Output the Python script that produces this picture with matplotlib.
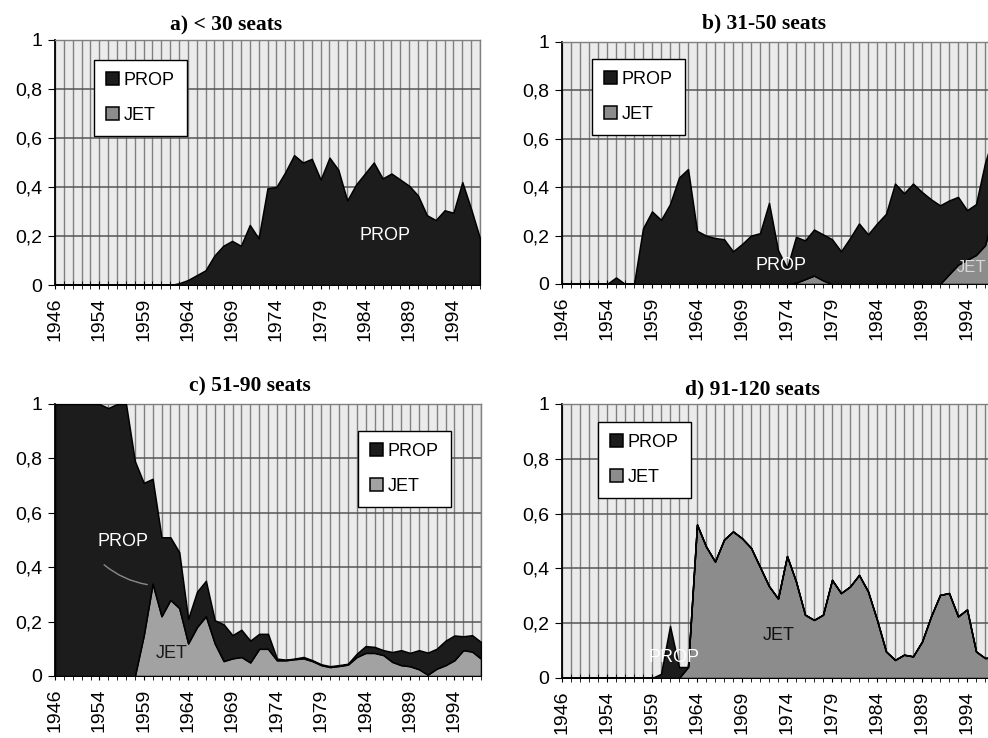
import matplotlib.pyplot as plt
import numpy as np

plt.rcParams['font.family'] = ['Liberation Sans', 'DejaVu Sans']

# categories (one per data point), labelled every 5th
years = [1946, 1950, 1951, 1952, 1953] + list(range(1954, 1998))

# a) < 30 seats
a_prop = [0, 0, 0, 0, 0, 0, 0, 0, 0, 0, 0, 0, 0,
          0.0, 0.007, 0.02, 0.04, 0.06, 0.12, 0.16, 0.18, 0.16, 0.245, 0.19,
          0.395, 0.40, 0.46, 0.53, 0.50, 0.515, 0.43, 0.52, 0.47, 0.345,
          0.41, 0.455, 0.50, 0.435, 0.455, 0.43, 0.405, 0.365, 0.285, 0.265,
          0.305, 0.295, 0.42, 0.31, 0.19]
a_jet = [0, 0, 0, 0, 0, 0, 0, 0, 0, 0, 0, 0, 0, 0, 0, 0, 0, 0, 0, 0, 0, 0, 0, 0,
         0, 0, 0, 0, 0, 0, 0, 0, 0, 0, 0, 0, 0, 0, 0, 0, 0, 0, 0, 0, 0, 0, 0, 0, 0]

# b) 31-50 seats
b_prop = [0, 0, 0, 0, 0, 0, 0.027, 0, 0, 0.23, 0.30, 0.265, 0.33, 0.44, 0.475,
          0.22, 0.20, 0.19, 0.185, 0.135, 0.165, 0.20, 0.21, 0.335, 0.14, 0.065,
          0.19, 0.16, 0.19, 0.19, 0.185, 0.135, 0.19, 0.25, 0.205, 0.25, 0.29,
          0.415, 0.375, 0.415, 0.38, 0.35, 0.325, 0.305, 0.28, 0.205, 0.21,
          0.34, 0.32]
b_jet = [0, 0, 0, 0, 0, 0, 0, 0, 0, 0, 0, 0, 0, 0, 0, 0, 0, 0, 0, 0, 0, 0, 0, 0,
         0, 0, 0.005, 0.02, 0.035, 0.015, 0, 0, 0, 0, 0, 0, 0, 0, 0, 0, 0, 0, 0,
         0.04, 0.08, 0.10, 0.12, 0.16, 0.30]

# c) 51-90 seats
c_prop = [1.0, 1.0, 1.0, 1.0, 1.0, 1.0, 0.985, 1.0, 1.0, 0.79, 0.56, 0.385,
          0.29, 0.23, 0.205, 0.09, 0.13, 0.13, 0.085, 0.135, 0.085, 0.10, 0.08,
          0.055, 0.055, 0.006, 0.002, 0.002, 0.005, 0.003, 0.003, 0.003, 0.003,
          0.003, 0.012, 0.025, 0.022, 0.018, 0.036, 0.055, 0.049, 0.07, 0.081,
          0.073, 0.09, 0.091, 0.051, 0.06, 0.061]
c_jet = [0, 0, 0, 0, 0, 0, 0, 0, 0, 0, 0.15, 0.34, 0.22, 0.28, 0.25, 0.12, 0.18,
         0.22, 0.12, 0.055, 0.065, 0.07, 0.05, 0.10, 0.10, 0.058, 0.058, 0.062,
         0.065, 0.055, 0.04, 0.033, 0.037, 0.042, 0.07, 0.085, 0.085, 0.077,
         0.052, 0.04, 0.036, 0.025, 0.005, 0.027, 0.04, 0.058, 0.095, 0.09, 0.064]

# d) 91-120 seats
d_prop = [0, 0, 0, 0, 0, 0, 0, 0, 0, 0, 0, 0.015, 0.19, 0.04, 0, 0, 0, 0, 0, 0,
          0, 0, 0, 0, 0, 0, 0, 0, 0, 0, 0, 0, 0, 0, 0, 0, 0, 0, 0, 0, 0, 0, 0, 0,
          0, 0, 0, 0, 0]
d_jet = [0, 0, 0, 0, 0, 0, 0, 0, 0, 0, 0, 0, 0, 0, 0.04, 0.56, 0.48, 0.425,
         0.505, 0.535, 0.51, 0.475, 0.405, 0.335, 0.29, 0.445, 0.352, 0.231,
         0.212, 0.231, 0.358, 0.31, 0.334, 0.376, 0.316, 0.212, 0.097, 0.066,
         0.085, 0.079, 0.133, 0.225, 0.303, 0.31, 0.225, 0.25, 0.097, 0.073, 0.075]

W, H = 988, 738
fig = plt.figure(figsize=(W / 100, H / 100), dpi=100)


def px_rect(l, t, r, b):
    return [l / W, 1 - b / H, (r - l) / W, (b - t) / H]


def fx(x, y):
    return x / W, 1 - y / H


panels = [
    ('a) < 30 seats', a_prop, a_jet, (55, 40, 480, 285), (226, 25), '#8c8c8c', (94, 60)),
    ('b) 31-50 seats', b_prop, b_jet, (562, 42, 994, 284), (764, 23), '#8c8c8c', (592, 59)),
    ('c) 51-90 seats', c_prop, c_jet, (55, 404, 481, 676), (250, 386), '#a2a2a2', (358, 431)),
    ('d) 91-120 seats', d_prop, d_jet, (562, 404, 994, 678), (752, 389), '#8c8c8c', (598, 422)),
]

x = np.arange(len(years))
axes = []
for title, prop, jet, rect, tpos, jet_col, legpos in panels:
    ax = fig.add_axes(px_rect(*rect))
    axes.append(ax)
    ax.set_facecolor('#ebebeb')
    polys = ax.stackplot(x, jet, prop, colors=[jet_col, '#1c1c1c'],
                         edgecolor='black', linewidth=1.1, zorder=3)
    ax.set_xlim(0, len(years) - 1)
    ax.set_ylim(0, 1)
    ax.set_xticks(x[::5])
    ax.set_xticklabels([str(y) for y in years[::5]], rotation=90)
    ax.set_xticks(x, minor=True)
    ax.set_yticks([0, 0.2, 0.4, 0.6, 0.8, 1.0])
    ax.set_yticklabels(['0', '0,2', '0,4', '0,6', '0,8', '1'])
    ax.tick_params(axis='x', which='both', length=6, direction='inout',
                   labelsize=14, pad=6, color='black')
    ax.tick_params(axis='y', length=5, direction='out', labelsize=14, pad=4)
    ax.grid(axis='x', which='both', color='#808080', linewidth=1.0, zorder=1)
    ax.grid(axis='y', which='major', color='#555555', linewidth=1.1, zorder=1)
    ax.set_axisbelow(True)
    for s in ('top', 'right'):
        ax.spines[s].set_color('#808080')
        ax.spines[s].set_linewidth(1.0)
    for s in ('left', 'bottom'):
        ax.spines[s].set_color('black')
        ax.spines[s].set_linewidth(1.3)
    fig.text(*fx(*tpos), title, ha='center', va='center', fontsize=15.5,
             fontweight='bold', family=['Liberation Serif', 'DejaVu Serif'])
    leg = ax.legend([polys[1], polys[0]], ['PROP', 'JET'], loc='upper left',
                    bbox_to_anchor=fx(*legpos), bbox_transform=fig.transFigure,
                    fancybox=False, framealpha=1, edgecolor='black',
                    fontsize=13, handlelength=0.75, handleheight=0.75,
                    handletextpad=0.25, labelspacing=1.0, borderpad=0.65,
                    borderaxespad=0)
    leg.get_frame().set_linewidth(1.0)
    leg.set_zorder(10)

# in-chart series labels
fig.text(*fx(385, 235), 'PROP', color='white', fontsize=13, ha='center', va='center')
fig.text(*fx(781, 265), 'PROP', color='white', fontsize=13, ha='center', va='center')
fig.text(*fx(986, 267), 'JET', color='#d8d8d8', fontsize=12, ha='right', va='center')
fig.text(*fx(123, 541), 'PROP', color='white', fontsize=13, ha='center', va='center')
fig.text(*fx(172, 654), 'JET', color='#1a1a1a', fontsize=13, ha='center', va='center')
fig.text(*fx(674, 657), 'PROP', color='white', fontsize=13, ha='center', va='center')
fig.text(*fx(779, 636), 'JET', color='#111111', fontsize=13, ha='center', va='center')

# leader line from the PROP label in panel c
axes[2].annotate('', xy=(150, H - 585), xycoords='figure pixels',
                 xytext=(102, H - 563), textcoords='figure pixels',
                 arrowprops=dict(arrowstyle='-', color='#8a8a8a', lw=1.0,
                                 connectionstyle='arc3,rad=0.15'))

fig.savefig('out.png', dpi=100)
